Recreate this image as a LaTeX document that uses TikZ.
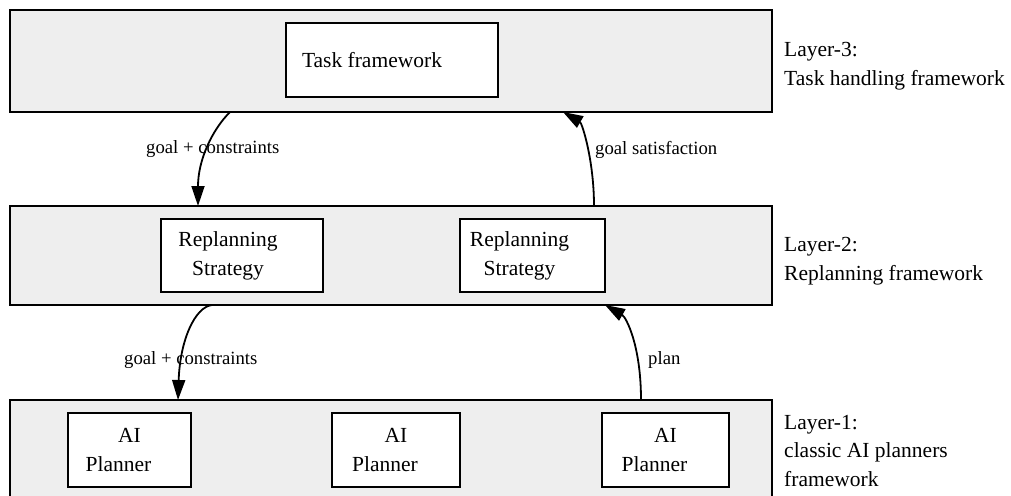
\documentclass[tikz,border=0pt]{standalone}
\usepackage{fontspec}
\setmainfont{Liberation Serif}
\usetikzlibrary{arrows.meta}

\definecolor{layerfill}{HTML}{EEEEEE}

\begin{document}
\begin{tikzpicture}[
  x=1pt, y=-1pt,
  layerbox/.style={draw=black, line width=2.2pt, fill=layerfill, outer sep=0pt,
                   inner sep=0pt, anchor=north west},
  unitbox/.style={draw=black, line width=2.2pt, fill=white, outer sep=0pt,
                  align=center, font=\fontsize{21.5pt}{29pt}\selectfont},
  layertext/.style={anchor=base west, align=left, inner sep=0pt,
                    font=\fontsize{21.5pt}{28.5pt}\selectfont},
  flowtext/.style={anchor=base west, inner sep=0pt,
                   font=\fontsize{18.7pt}{22pt}\selectfont},
  flow/.style={draw=black, line width=1.8pt,
               -{Triangle[length=20pt, width=13pt]}}
]
\useasboundingbox (0,0) rectangle (1011,495);

% the three layers
\node[layerbox, minimum width=762pt, minimum height=102pt] (L3) at (10,10) {};
\node[layerbox, minimum width=762pt, minimum height=99pt]  (L2) at (10,206) {};
\node[layerbox, minimum width=762pt, minimum height=100pt] (L1) at (10,400) {};

% layer 3 content
\node[unitbox, minimum width=212pt, minimum height=74pt] (task) at (392,60)
  {Task framework\kern40pt};

% layer 2 content
\node[unitbox, minimum width=162pt, minimum height=73pt] (rs1) at (242,255.5)
  {Replanning\kern28pt\\Strategy\kern28pt};
\node[unitbox, minimum width=145pt, minimum height=73pt] (rs2) at (532.5,255.5)
  {Replanning\kern26pt\\Strategy\kern26pt};

% layer 1 content
\node[unitbox, minimum width=123pt, minimum height=74pt] (ai1) at (129.5,450)
  {AI\\Planner\kern22pt};
\node[unitbox, minimum width=128pt, minimum height=74pt] (ai2) at (396,450)
  {AI\\Planner\kern22pt};
\node[unitbox, minimum width=127pt, minimum height=74pt] (ai3) at (665.5,450)
  {AI\\Planner\kern22pt};

% layer captions (base anchor sits on the last line)
\node[layertext] (cap3) at (784,85)  {Layer-3:\\Task handling framework};
\node[layertext] (cap2) at (784,280) {Layer-2:\\Replanning framework};
\node[layertext] (cap1) at (784,486) {Layer-1:\\classic AI planners\\framework};

% connector labels
\node[flowtext] (t32) at (146,153) {goal + constraints};
\node[flowtext] (t23) at (595,154) {goal satisfaction};
\node[flowtext] (t21) at (124,364) {goal + constraints};
\node[flowtext] (t12) at (648,364) {plan};

% connectors between the layers
\draw[flow] ([xshift=220pt]L3.south west)
  .. controls +(-18,18) and +(0,-46) .. ([xshift=188pt]L2.north west);
\draw[flow] ([xshift=584pt]L2.north west)
  .. controls +(0,-46) and +(19,11) .. ([xshift=553pt]L3.south west);
\draw[flow] ([xshift=202pt]L2.south west)
  .. controls +(-17,2) and +(2,-60) .. ([xshift=168pt]L1.north west);
\draw[flow] ([xshift=631pt]L1.north west)
  .. controls +(0,-55) and +(21,12) .. ([xshift=595pt]L2.south west);
\end{tikzpicture}
\end{document}
